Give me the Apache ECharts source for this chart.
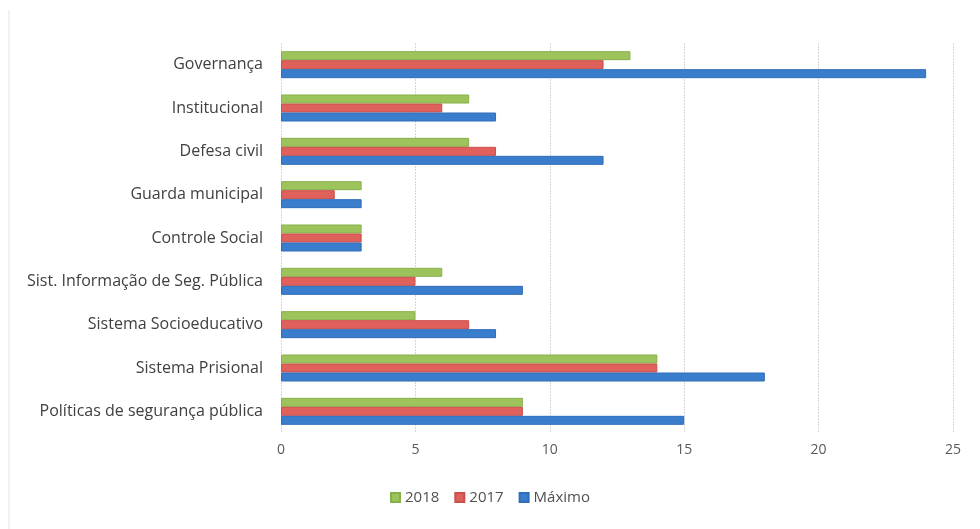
<!DOCTYPE html>
<html>
<head>
<meta charset="utf-8">
<script src="https://cdn.jsdelivr.net/npm/echarts@6/dist/echarts.min.js"></script>
<style>
  html, body { margin: 0; padding: 0; background: #ffffff; }
  #chart { width: 980px; height: 529px; }
</style>
</head>
<body>
<div id="chart"></div>
<script>
// Categories listed bottom-to-top, as the category axis draws them
const categories = [
  'Políticas de segurança pública',
  'Sistema Prisional',
  'Sistema Socioeducativo',
  'Sist. Informação de Seg. Pública',
  'Controle Social',
  'Guarda municipal',
  'Defesa civil',
  'Institucional',
  'Governança'
];
const values2018 = [9, 14, 5, 6, 3, 3, 7, 7, 13];
const values2017 = [9, 14, 7, 5, 3, 2, 8, 6, 12];
const valuesMaximo = [15, 18, 8, 9, 3, 3, 12, 8, 24];
const xTicks = [0, 5, 10, 15, 20, 25];

const FONT = '"Open Sans", Lato, sans-serif';

const chart = echarts.init(document.getElementById('chart'), null, { renderer: 'canvas' });

function barSeries(name, data, color, border) {
  return {
    name: name,
    type: 'bar',
    data: data,
    barWidth: 9,
    barGap: '0%',
    itemStyle: { color: color, borderColor: border, borderWidth: 1 }
  };
}

chart.setOption({
  animation: false,
  backgroundColor: '#ffffff',
  grid: { left: 281, right: 27, top: 43, bottom: 96, containLabel: false },
  legend: {
    data: ['2018', '2017', 'Máximo'],
    bottom: 19,
    left: 'center',
    itemWidth: 9,
    itemHeight: 9,
    itemGap: 15,
    icon: 'rect',
    textStyle: { color: '#505050', fontSize: 15, fontFamily: FONT }
  },
  xAxis: {
    type: 'value',
    min: xTicks[0],
    max: xTicks[xTicks.length - 1],
    interval: xTicks[1] - xTicks[0],
    axisLine: { show: false },
    axisTick: { show: false },
    axisLabel: { color: '#595959', fontSize: 14, fontFamily: FONT, margin: 10 },
    splitLine: { show: true, lineStyle: { color: '#d6d6d6', width: 1, type: [2, 1] } }
  },
  yAxis: {
    type: 'category',
    data: categories,
    axisLine: { show: false },
    axisTick: { show: false },
    axisLabel: { color: '#404040', fontSize: 16, fontFamily: FONT, margin: 18 }
  },
  graphic: [{
    type: 'line',
    shape: { x1: 9, y1: 10, x2: 9, y2: 529 },
    style: { stroke: '#e2e2e2', lineWidth: 1 }
  }],
  series: [
    barSeries('2018', values2018, '#9dc45c', '#88b04a'),
    barSeries('2017', values2017, '#e0605c', '#c9504c'),
    barSeries('Máximo', valuesMaximo, '#3a7dcc', '#2f6db8')
  ]
});
</script>
</body>
</html>
